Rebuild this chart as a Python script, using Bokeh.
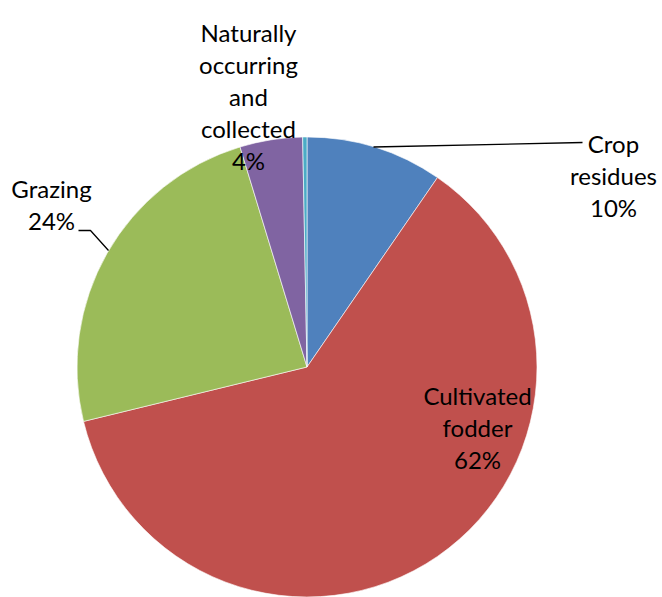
import math
from bokeh.plotting import figure
from bokeh.models import ColumnDataSource, Range1d
from bokeh.core.properties import value
from bokeh.embed import file_html
from bokeh.resources import INLINE

# Feed sources, in drawing order (clockwise from 12 o'clock)
categories = ["Crop residues", "Cultivated fodder", "Grazing",
              "Naturally occurring and collected", "Other"]
shares = [9.6, 61.6, 24.1, 4.4, 0.3]
colors = ["#4F81BD", "#C0504D", "#9BBB59", "#8064A2", "#4BACC6"]

# Label text lines per category (percent line is appended from the share)
label_lines = [
    ["Crop", "residues"],
    ["Cultivated", "fodder"],
    ["Grazing"],
    ["Naturally", "occurring", "and", "collected"],
    None,
]

W, H = 662, 597
cx, cy, R = 306.5, H - 366.5, 230.0

p = figure(width=W, height=H, output_backend="svg", toolbar_location=None,
           x_range=Range1d(0, W), y_range=Range1d(0, H), min_border=0)
p.axis.visible = False
p.grid.visible = False
p.outline_line_color = None
p.background_fill_color = "white"
p.border_fill_color = "white"

total = sum(shares)
starts, ends = [], []
cum = 0.0
for s in shares:
    a0 = math.pi / 2 - 2 * math.pi * (cum + s) / total
    a1 = math.pi / 2 - 2 * math.pi * cum / total
    starts.append(a0)
    ends.append(a1)
    cum += s

src = ColumnDataSource(dict(start=starts, end=ends, color=colors, name=categories))
p.wedge(x=cx, y=cy, radius=R, start_angle="start", end_angle="end",
        direction="anticlock", fill_color="color", line_color="white",
        line_width=0.6, source=src)

# label anchors (centre x, first baseline y from the top) and line spacing
anchors = {0: (613, 143), 1: (477, 395), 2: (51, 188), 3: (248, 32)}
step = 32

xs, ys, texts = [], [], []
for i, lines in enumerate(label_lines):
    if lines is None:
        continue
    full = lines + [f"{round(shares[i] / total * 100)}%"]
    ax, ay = anchors[i]
    for k, t in enumerate(full):
        xs.append(ax)
        ys.append(H - (ay + k * step))
        texts.append(t)

p.text(x=xs, y=ys, text=texts, text_align="center", text_baseline="alphabetic",
       text_font=value("Lato"), text_font_size="24px", text_color="black")

# leader lines
p.line(x=[373, 582], y=[H - 146.5, H - 142], line_color="black", line_width=1.3)
p.line(x=[78, 90, 108], y=[H - 230, H - 230, H - 250], line_color="black", line_width=1.3)

open("out.html", "w").write(file_html(p, INLINE))
